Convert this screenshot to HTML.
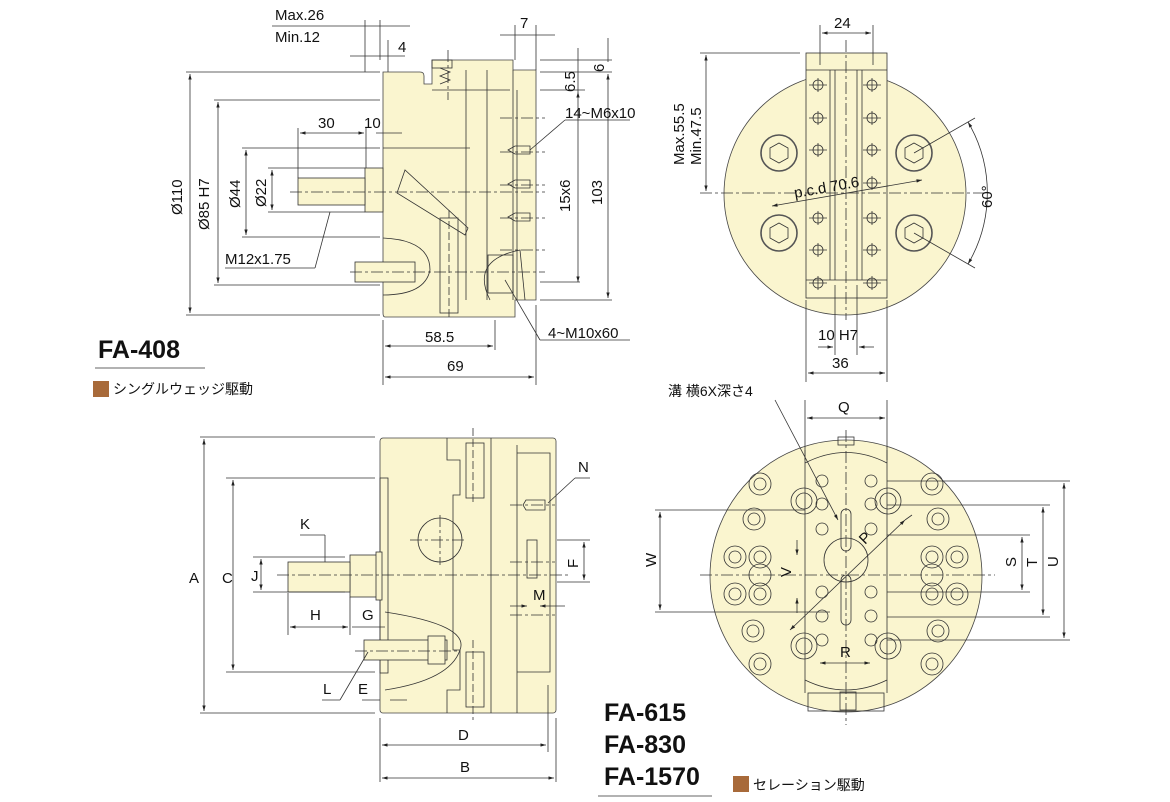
<!DOCTYPE html>
<html><head><meta charset="utf-8"><style>
html,body{margin:0;padding:0;background:#fff;}
svg{display:block;font-family:"Liberation Sans","Noto Sans CJK JP",sans-serif;}
</style></head><body>
<svg width="1170" height="802" viewBox="0 0 1170 802" xmlns="http://www.w3.org/2000/svg">
<defs>
<marker id="a" viewBox="0 0 10 10" refX="10" refY="5" markerWidth="7" markerHeight="7" orient="auto-start-reverse"><path d="M0,2 L10,5 L0,8z" fill="#222"/></marker>
</defs>
<g stroke="#333" stroke-width="0.8" fill="none">

<!-- ===== TOP LEFT SIDE VIEW ===== -->
<path d="M383,72 L420,72 Q424,72 424,76 L424,84 L432,84 L432,60 L513,60 L513,70 L536,70 L536,300 L515,300 L515,317 L385,317 Q383,317 383,313 Z" fill="#faf5cf" stroke="#444"/>
<line x1="383" y1="148" x2="470" y2="148"/>
<line x1="466" y1="70" x2="466" y2="300"/>
<line x1="487" y1="70" x2="487" y2="300"/>
<line x1="513" y1="70" x2="513" y2="300"/>
<line x1="517" y1="90" x2="517" y2="300"/>
<line x1="432" y1="90" x2="510" y2="90"/>
<path d="M440,68 L450,72 L440,76 L450,80 L440,84" />
<rect x="432" y="60" width="20" height="8"/>
<path d="M397,193 L405,170 L468,228 L465,235 Z"/>
<rect x="440" y="218" width="18" height="95"/>
<line x1="449" y1="210" x2="449" y2="320" stroke-dasharray="8,3"/>
<path d="M490,300 Q470,260 520,250 L525,300"/>
<rect x="488" y="255" width="25" height="38"/>
<path d="M383,238 Q430,240 430,270 Q425,295 383,295"/>
<rect x="365" y="168" width="18" height="44" fill="#faf5cf"/>
<rect x="298" y="178" width="67" height="27" fill="#faf5cf"/>
<rect x="355" y="262" width="60" height="20" fill="#faf5cf"/>
<g stroke-dasharray="12,3,3,3">
<line x1="290" y1="192" x2="545" y2="192"/>
<line x1="350" y1="272" x2="545" y2="272"/>
<line x1="500" y1="118" x2="545" y2="118"/>
<line x1="500" y1="152" x2="545" y2="152"/>
<line x1="500" y1="185" x2="545" y2="185"/>
<line x1="500" y1="218" x2="545" y2="218"/>
<line x1="500" y1="250" x2="545" y2="250"/>
<line x1="448" y1="50" x2="448" y2="100"/>
</g>
<path d="M508,150 L515,146 L530,146 L530,154 L515,154 Z"/>
<path d="M508,184 L515,180 L530,180 L530,188 L515,188 Z"/>
<path d="M508,217 L515,213 L530,213 L530,221 L515,221 Z"/>
<!-- dims top-left -->
<line x1="186" y1="72" x2="380" y2="72"/>
<line x1="186" y1="315" x2="380" y2="315"/>
<line x1="190" y1="74" x2="190" y2="313" marker-start="url(#a)" marker-end="url(#a)"/>
<line x1="214" y1="100" x2="380" y2="100"/>
<line x1="214" y1="285" x2="380" y2="285"/>
<line x1="218" y1="102" x2="218" y2="283" marker-start="url(#a)" marker-end="url(#a)"/>
<line x1="242" y1="148" x2="380" y2="148"/>
<line x1="242" y1="237" x2="380" y2="237"/>
<line x1="246" y1="150" x2="246" y2="235" marker-start="url(#a)" marker-end="url(#a)"/>
<line x1="268" y1="168" x2="365" y2="168"/>
<line x1="268" y1="212" x2="365" y2="212"/>
<line x1="272" y1="170" x2="272" y2="210" marker-start="url(#a)" marker-end="url(#a)"/>
<line x1="298" y1="128" x2="298" y2="178"/>
<line x1="366" y1="128" x2="366" y2="168"/>
<line x1="300" y1="133" x2="364" y2="133" marker-start="url(#a)" marker-end="url(#a)"/>
<line x1="376" y1="133" x2="402" y2="133"/>
<line x1="388" y1="40" x2="388" y2="72"/>
<line x1="365" y1="20" x2="365" y2="72"/>
<line x1="380" y1="20" x2="380" y2="60"/>
<line x1="272" y1="26" x2="410" y2="26"/>
<line x1="350" y1="56" x2="405" y2="56"/>
<line x1="225" y1="268" x2="315" y2="268"/>
<line x1="315" y1="268" x2="330" y2="212"/>
<line x1="515" y1="25" x2="515" y2="60"/>
<line x1="536" y1="25" x2="536" y2="70"/>
<line x1="500" y1="35" x2="555" y2="35"/>
<line x1="540" y1="60" x2="612" y2="60"/>
<line x1="540" y1="72" x2="612" y2="72"/>
<line x1="540" y1="90" x2="585" y2="90"/>
<line x1="540" y1="300" x2="612" y2="300"/>
<line x1="578" y1="92" x2="578" y2="282" marker-start="url(#a)" marker-end="url(#a)"/>
<line x1="540" y1="282" x2="580" y2="282"/>
<line x1="608" y1="74" x2="608" y2="298" marker-start="url(#a)" marker-end="url(#a)"/>
<line x1="608" y1="38" x2="608" y2="62"/>
<line x1="578" y1="48" x2="578" y2="92"/>
<line x1="565" y1="120" x2="630" y2="120"/>
<line x1="565" y1="120" x2="530" y2="150"/>
<line x1="540" y1="340" x2="630" y2="340"/>
<line x1="540" y1="340" x2="505" y2="280"/>
<line x1="383" y1="320" x2="383" y2="385"/>
<line x1="495" y1="320" x2="495" y2="350"/>
<line x1="536" y1="305" x2="536" y2="385"/>
<line x1="385" y1="346" x2="493" y2="346" marker-start="url(#a)" marker-end="url(#a)"/>
<line x1="385" y1="377" x2="534" y2="377" marker-start="url(#a)" marker-end="url(#a)"/>
<line x1="95" y1="368" x2="205" y2="368"/>

<!-- ===== TOP RIGHT ===== -->
<circle cx="845" cy="194" r="121" fill="#faf5cf" stroke="#444"/>
<rect x="806" y="53" width="81" height="245" fill="#faf5cf"/>
<line x1="806" y1="70" x2="887" y2="70"/>
<line x1="806" y1="280" x2="887" y2="280"/>
<line x1="835" y1="70" x2="835" y2="280"/>
<line x1="857" y1="70" x2="857" y2="280"/>
<line x1="830" y1="70" x2="830" y2="280"/>
<line x1="862" y1="70" x2="862" y2="280"/>
<g stroke-dasharray="12,3,3,3">
<line x1="700" y1="193" x2="990" y2="193"/>
<line x1="846" y1="40" x2="846" y2="320"/>
</g>
<g>
<circle cx="818" cy="85" r="5"/><circle cx="872" cy="85" r="5"/>
<circle cx="818" cy="118" r="5"/><circle cx="872" cy="118" r="5"/>
<circle cx="818" cy="150" r="5"/><circle cx="872" cy="150" r="5"/>
<circle cx="872" cy="183" r="5"/>
<circle cx="818" cy="218" r="5"/><circle cx="872" cy="218" r="5"/>
<circle cx="818" cy="250" r="5"/><circle cx="872" cy="250" r="5"/>
<circle cx="818" cy="283" r="5"/><circle cx="872" cy="283" r="5"/>
<path d="M809,85h18M863,85h18M809,118h18M863,118h18M809,150h18M863,150h18M863,183h18M809,218h18M863,218h18M809,250h18M863,250h18M809,283h18M863,283h18"/>
<path d="M818,78v14M872,78v14M818,111v14M872,111v14M818,143v14M872,143v14M872,176v14M818,211v14M872,211v14M818,243v14M872,243v14M818,276v14M872,276v14"/>
</g>
<g stroke-width="1.6" stroke="#555">
<circle cx="779" cy="153" r="18"/><circle cx="914" cy="153" r="18"/>
<circle cx="779" cy="233" r="18"/><circle cx="914" cy="233" r="18"/>
</g>
<g>
<polygon points="779,143 788,148 788,158 779,163 770,158 770,148"/>
<polygon points="914,143 923,148 923,158 914,163 905,158 905,148"/>
<polygon points="779,223 788,228 788,238 779,243 770,238 770,228"/>
<polygon points="914,223 923,228 923,238 914,243 905,238 905,228"/>
</g>
<line x1="772" y1="206" x2="922" y2="180" marker-start="url(#a)" marker-end="url(#a)"/>
<line x1="914" y1="153" x2="975" y2="118"/>
<line x1="914" y1="233" x2="975" y2="268"/>
<path d="M968,122 A140,140 0 0 1 968,264" marker-start="url(#a)" marker-end="url(#a)"/>
<line x1="700" y1="53" x2="800" y2="53"/>
<line x1="706" y1="55" x2="706" y2="191" marker-start="url(#a)" marker-end="url(#a)"/>
<line x1="820" y1="25" x2="820" y2="65"/>
<line x1="873" y1="25" x2="873" y2="65"/>
<line x1="822" y1="33" x2="871" y2="33" marker-start="url(#a)" marker-end="url(#a)"/>
<line x1="806" y1="300" x2="806" y2="382"/>
<line x1="887" y1="300" x2="887" y2="382"/>
<line x1="835" y1="285" x2="835" y2="355"/>
<line x1="857" y1="285" x2="857" y2="355"/>
<line x1="808" y1="373" x2="885" y2="373" marker-start="url(#a)" marker-end="url(#a)"/>
<line x1="818" y1="347" x2="833" y2="347" marker-end="url(#a)"/>
<line x1="874" y1="347" x2="859" y2="347" marker-end="url(#a)"/>

<!-- ===== BOTTOM LEFT ===== -->
<rect x="380" y="438" width="176" height="275" rx="3" fill="#faf5cf" stroke="#444"/>
<rect x="380" y="478" width="8" height="195"/>
<path d="M447,438 L447,460 L460,460 L460,495 L453,495 L453,650 L460,650 L460,690 L447,690 L447,713"/>
<line x1="491" y1="438" x2="491" y2="713"/>
<line x1="517" y1="445" x2="517" y2="713"/>
<path d="M517,453 L550,453 L550,672 L517,672"/>
<rect x="466" y="443" width="18" height="55"/>
<rect x="466" y="652" width="18" height="55"/>
<line x1="473" y1="428" x2="473" y2="505" stroke-dasharray="8,3"/>
<line x1="473" y1="640" x2="473" y2="720" stroke-dasharray="8,3"/>
<circle cx="440" cy="540" r="22"/>
<path d="M523,505 L526,500 L545,500 L545,510 L526,510 Z"/>
<rect x="527" y="540" width="10" height="38"/>
<path d="M385,612 Q470,625 460,650 Q450,680 385,690"/>
<rect x="364" y="640" width="83" height="20" fill="#faf5cf"/>
<rect x="428" y="636" width="17" height="28" fill="#faf5cf"/>
<rect x="350" y="555" width="30" height="42" fill="#faf5cf"/>
<rect x="376" y="552" width="6" height="48" fill="#faf5cf"/>
<rect x="288" y="562" width="62" height="30" fill="#faf5cf"/>
<g stroke-dasharray="12,3,3,3">
<line x1="277" y1="575" x2="570" y2="575"/>
<line x1="355" y1="651" x2="460" y2="651"/>
<line x1="410" y1="540" x2="465" y2="540"/>
<line x1="440" y1="515" x2="440" y2="565"/>
<line x1="510" y1="505" x2="555" y2="505"/>
<line x1="510" y1="562" x2="555" y2="562"/>
<line x1="510" y1="615" x2="555" y2="615"/>
</g>
<line x1="200" y1="437" x2="375" y2="437"/>
<line x1="200" y1="713" x2="375" y2="713"/>
<line x1="204" y1="439" x2="204" y2="711" marker-start="url(#a)" marker-end="url(#a)"/>
<line x1="226" y1="478" x2="375" y2="478"/>
<line x1="226" y1="672" x2="375" y2="672"/>
<line x1="233" y1="480" x2="233" y2="670" marker-start="url(#a)" marker-end="url(#a)"/>
<line x1="253" y1="557" x2="345" y2="557"/>
<line x1="253" y1="592" x2="345" y2="592"/>
<line x1="261" y1="559" x2="261" y2="590" marker-start="url(#a)" marker-end="url(#a)"/>
<line x1="288" y1="593" x2="288" y2="635"/>
<line x1="350" y1="597" x2="350" y2="635"/>
<line x1="290" y1="627" x2="348" y2="627" marker-start="url(#a)" marker-end="url(#a)"/>
<line x1="352" y1="627" x2="385" y2="627"/>
<line x1="300" y1="535" x2="325" y2="535"/>
<line x1="325" y1="535" x2="325" y2="562"/>
<line x1="322" y1="700" x2="340" y2="700"/>
<line x1="340" y1="700" x2="368" y2="652"/>
<line x1="362" y1="700" x2="380" y2="700" />
<line x1="390" y1="700" x2="407" y2="700" />
<line x1="380" y1="718" x2="380" y2="782"/>
<line x1="548" y1="685" x2="548" y2="752"/>
<line x1="556" y1="718" x2="556" y2="782"/>
<line x1="382" y1="745" x2="546" y2="745" marker-start="url(#a)" marker-end="url(#a)"/>
<line x1="382" y1="778" x2="554" y2="778" marker-start="url(#a)" marker-end="url(#a)"/>
<line x1="557" y1="540" x2="590" y2="540"/>
<line x1="557" y1="582" x2="590" y2="582"/>
<line x1="584" y1="542" x2="584" y2="580" marker-start="url(#a)" marker-end="url(#a)"/>
<line x1="510" y1="606" x2="527" y2="606" marker-end="url(#a)"/>
<line x1="565" y1="606" x2="540" y2="606" marker-end="url(#a)"/>
<line x1="575" y1="478" x2="590" y2="478"/>
<line x1="575" y1="478" x2="548" y2="503"/>
<line x1="598" y1="796" x2="712" y2="796"/>

<!-- ===== BOTTOM RIGHT ===== -->
<circle cx="846" cy="576" r="136" fill="#faf5cf" stroke="#444"/>
<path d="M805,450 L805,693 M887,450 L887,693"/>
<path d="M805,463 Q846,442 887,463"/>
<path d="M805,680 Q846,700 887,680"/>
<rect x="808" y="693" width="76" height="18"/>
<rect x="838" y="437" width="16" height="8"/>
<rect x="840" y="692" width="16" height="18"/>
<circle cx="846" cy="560" r="22"/>
<rect x="841" y="509" width="10" height="42" rx="5"/>
<rect x="841" y="575" width="10" height="50" rx="5"/>
<g stroke-dasharray="12,3,3,3">
<line x1="700" y1="575" x2="995" y2="575"/>
<line x1="846" y1="430" x2="846" y2="725"/>
</g>
<g>
<circle cx="822" cy="481" r="6"/><circle cx="871" cy="481" r="6"/>
<circle cx="822" cy="504" r="6"/><circle cx="871" cy="504" r="6"/>
<circle cx="822" cy="529" r="6"/><circle cx="871" cy="529" r="6"/>
<circle cx="822" cy="592" r="6"/><circle cx="871" cy="592" r="6"/>
<circle cx="822" cy="616" r="6"/><circle cx="871" cy="616" r="6"/>
<circle cx="822" cy="640" r="6"/><circle cx="871" cy="640" r="6"/>
</g>
<g>
<circle cx="760" cy="484" r="11"/><circle cx="760" cy="484" r="6"/>
<circle cx="754" cy="519" r="11"/><circle cx="754" cy="519" r="6"/>
<circle cx="735" cy="557" r="11"/><circle cx="735" cy="557" r="6"/>
<circle cx="760" cy="557" r="11"/><circle cx="760" cy="557" r="6"/>
<circle cx="760" cy="575" r="11"/>
<circle cx="735" cy="594" r="11"/><circle cx="735" cy="594" r="6"/>
<circle cx="760" cy="594" r="11"/><circle cx="760" cy="594" r="6"/>
<circle cx="753" cy="631" r="11"/><circle cx="753" cy="631" r="6"/>
<circle cx="760" cy="664" r="11"/><circle cx="760" cy="664" r="6"/>
<circle cx="932" cy="484" r="11"/><circle cx="932" cy="484" r="6"/>
<circle cx="938" cy="519" r="11"/><circle cx="938" cy="519" r="6"/>
<circle cx="932" cy="557" r="11"/><circle cx="932" cy="557" r="6"/>
<circle cx="957" cy="557" r="11"/><circle cx="957" cy="557" r="6"/>
<circle cx="932" cy="575" r="11"/>
<circle cx="932" cy="594" r="11"/><circle cx="932" cy="594" r="6"/>
<circle cx="957" cy="594" r="11"/><circle cx="957" cy="594" r="6"/>
<circle cx="938" cy="631" r="11"/><circle cx="938" cy="631" r="6"/>
<circle cx="932" cy="664" r="11"/><circle cx="932" cy="664" r="6"/>
<circle cx="804" cy="501" r="13"/><circle cx="804" cy="501" r="8"/>
<circle cx="888" cy="501" r="13"/><circle cx="888" cy="501" r="8"/>
<circle cx="804" cy="646" r="13"/><circle cx="804" cy="646" r="8"/>
<circle cx="888" cy="646" r="13"/><circle cx="888" cy="646" r="8"/>
</g>
<line x1="790" y1="630" x2="905" y2="520" marker-start="url(#a)" marker-end="url(#a)"/>
<line x1="905" y1="520" x2="912" y2="515"/>
<line x1="820" y1="663" x2="870" y2="663" marker-start="url(#a)" marker-end="url(#a)"/>
<line x1="805" y1="400" x2="805" y2="460"/>
<line x1="887" y1="400" x2="887" y2="460"/>
<line x1="807" y1="418" x2="885" y2="418" marker-start="url(#a)" marker-end="url(#a)"/>
<line x1="775" y1="400" x2="838" y2="520" marker-end="url(#a)"/>
<line x1="655" y1="510" x2="805" y2="510"/>
<line x1="655" y1="612" x2="830" y2="612"/>
<line x1="660" y1="512" x2="660" y2="610" marker-start="url(#a)" marker-end="url(#a)"/>
<line x1="797" y1="540" x2="797" y2="555" marker-end="url(#a)"/>
<line x1="797" y1="613" x2="797" y2="598" marker-end="url(#a)"/>
<line x1="887" y1="535" x2="1030" y2="535"/>
<line x1="887" y1="592" x2="1030" y2="592"/>
<line x1="887" y1="505" x2="1050" y2="505"/>
<line x1="887" y1="617" x2="1050" y2="617"/>
<line x1="887" y1="481" x2="1070" y2="481"/>
<line x1="887" y1="640" x2="1070" y2="640"/>
<line x1="1022" y1="537" x2="1022" y2="590" marker-start="url(#a)" marker-end="url(#a)"/>
<line x1="1043" y1="507" x2="1043" y2="615" marker-start="url(#a)" marker-end="url(#a)"/>
<line x1="1064" y1="483" x2="1064" y2="638" marker-start="url(#a)" marker-end="url(#a)"/>
</g>

<g fill="#111" font-size="15">
<text x="275" y="20">Max.26</text>
<text x="275" y="42">Min.12</text>
<text x="398" y="52">4</text>
<text x="520" y="28">7</text>
<text x="318" y="128">30</text>
<text x="364" y="128">10</text>
<text x="225" y="264">M12x1.75</text>
<text x="565" y="118">14~M6x10</text>
<text x="548" y="338">4~M10x60</text>
<text x="425" y="342">58.5</text>
<text x="447" y="371">69</text>
<text transform="translate(182,215) rotate(-90)">Ø110</text>
<text transform="translate(209,230) rotate(-90)">Ø85 H7</text>
<text transform="translate(240,208) rotate(-90)">Ø44</text>
<text transform="translate(266,207) rotate(-90)">Ø22</text>
<text transform="translate(570,212) rotate(-90)">15x6</text>
<text transform="translate(602,205) rotate(-90)">103</text>
<text transform="translate(575,92) rotate(-90)">6.5</text>
<text transform="translate(604,72) rotate(-90)">6</text>
<text x="834" y="28">24</text>
<text transform="translate(684,165) rotate(-90)">Max.55.5</text>
<text transform="translate(701,165) rotate(-90)">Min.47.5</text>
<text transform="translate(795,198) rotate(-10)">p.c.d 70.6</text>
<text transform="translate(992,208) rotate(-90)">60°</text>
<text x="818" y="340">10 H7</text>
<text x="832" y="368">36</text>
<text x="189" y="583">A</text>
<text x="222" y="583">C</text>
<text x="251" y="581">J</text>
<text x="300" y="529">K</text>
<text x="310" y="620">H</text>
<text x="362" y="620">G</text>
<text x="323" y="694">L</text>
<text x="358" y="694">E</text>
<text x="458" y="740">D</text>
<text x="460" y="772">B</text>
<text x="578" y="472">N</text>
<text x="533" y="600">M</text>
<text transform="translate(578,568) rotate(-90)">F</text>
<text x="838" y="412">Q</text>
<text x="840" y="657">R</text>
<text transform="translate(865,545) rotate(-45)">P</text>
<text transform="translate(791,577) rotate(-90)">V</text>
<text transform="translate(656,567) rotate(-90)">W</text>
<text transform="translate(1016,567) rotate(-90)">S</text>
<text transform="translate(1037,567) rotate(-90)">T</text>
<text transform="translate(1058,567) rotate(-90)">U</text>
<text x="668" y="396" font-size="14">溝  横6X深さ4</text>
</g>
<g font-weight="bold" font-size="25" fill="#111">
<text x="98" y="358">FA-408</text>
<text x="604" y="721">FA-615</text>
<text x="604" y="753">FA-830</text>
<text x="604" y="785">FA-1570</text>
</g>
<rect x="93" y="381" width="16" height="16" fill="#a86a3a"/>
<text x="113" y="394" font-size="14" fill="#111">シングルウェッジ駆動</text>
<rect x="733" y="776" width="16" height="16" fill="#a86a3a"/>
<text x="753" y="790" font-size="14" fill="#111">セレーション駆動</text>
</svg>
</body></html>
